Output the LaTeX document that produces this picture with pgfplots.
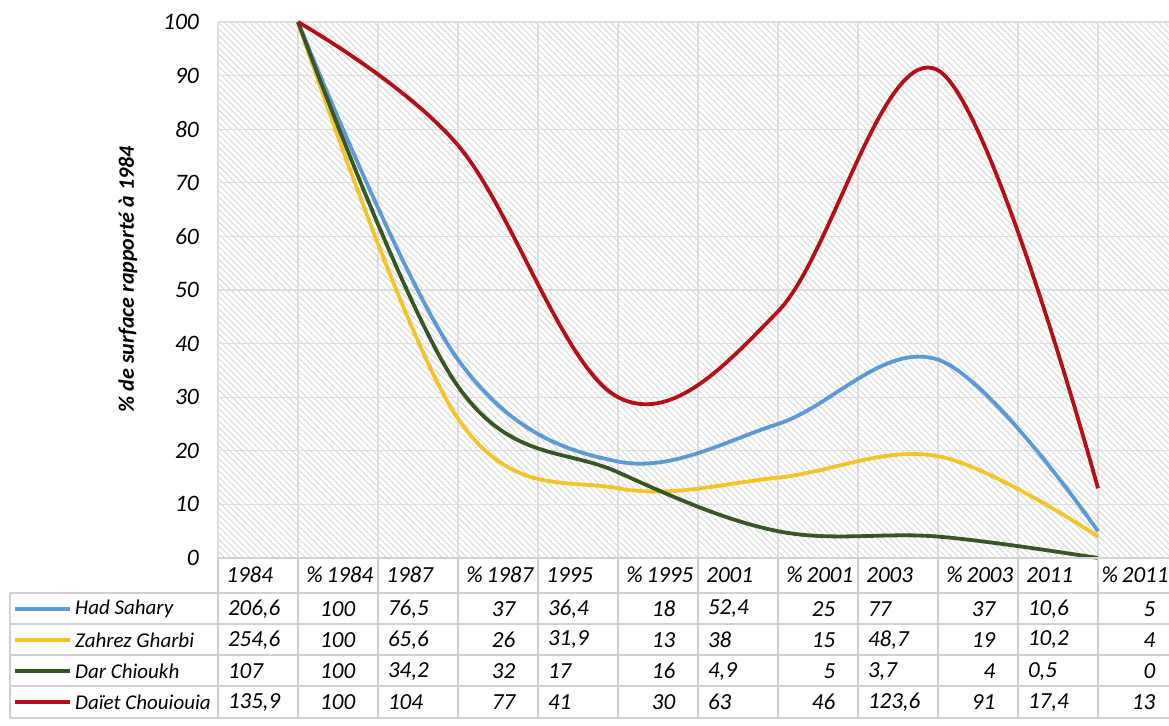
\documentclass[border=0pt]{standalone}
\usepackage{pgfplots}
\pgfplotsset{compat=1.18}
\usetikzlibrary{patterns.meta}
\usepackage{fontspec}
\setmainfont{Carlito}
\definecolor{blueS}{RGB}{91,155,213}
\definecolor{yellowS}{RGB}{245,196,40}
\definecolor{greenS}{RGB}{55,86,35}
\definecolor{redS}{RGB}{180,15,25}
\newcommand\tabrow[4]{%
  \draw[#2, line width=2pt] (-2.54,#1) -- (-1.85,#1);
  \node[anchor=west, inner sep=0pt, font=\itshape\fontsize{10.5}{12}\selectfont] at (-1.79,#1) {#3};
  \foreach \v [count=\i from 0] in {#4} {%
    \ifodd\i\relax
      \node[anchor=east, inner sep=0pt] at (\i+0.72,#1) {\v};
    \else
      \node[anchor=west, inner sep=0pt] at (\i+0.12,#1) {\v};
    \fi
  }%
}
\begin{document}
\begin{tikzpicture}
\useasboundingbox (0,0) rectangle (584.5pt,362.5pt);
\begin{axis}[
  at={(109pt,83.5pt)}, anchor=south west,
  width=480pt, height=268pt, scale only axis,
  xmin=0, xmax=12, ymin=0, ymax=100,
  xtick={0,...,12}, xticklabel=\empty,
  ytick={0,10,...,100},
  grid=major, major grid style={black!13, line width=0.6pt},
  axis line style={draw=none}, tick style={draw=none},
  axis background/.style={pattern={Lines[angle=-45,distance=2.2pt,line width=0.4pt]}, pattern color=black!17},
  /pgf/number format/assume math mode=true,
  yticklabel style={font=\itshape\fontsize{11.8}{13}\selectfont, xshift=-6pt},
  ylabel={\% de surface rapporté à 1984},
  ylabel style={font=\bfseries\itshape\fontsize{11}{13}\selectfont, at={(axis description cs:-0.094,0.52)}, anchor=center},
  clip=false,
]
\addplot[blueS, line width=1.9pt, smooth, tension=0.6] coordinates {(1,100) (3,37) (5,18) (7,25) (9,37) (11,5)};
\addplot[yellowS, line width=1.9pt, smooth, tension=0.6] coordinates {(1,100) (3,26) (5,13) (7,15) (9,19) (11,4)};
\addplot[greenS, line width=1.9pt, smooth, tension=0.6] coordinates {(1,100) (3,32) (5,16) (7,5) (9,4) (11,0)};
\addplot[redS, line width=1.9pt, smooth, tension=0.6] coordinates {(1,100) (3,77) (5,30) (7,46) (9,91) (11,13)};
\end{axis}
\begin{scope}[shift={(109pt,83.5pt)}, x=40pt, y=2.68pt,
  tbl/.style={black!18, line width=0.8pt},
  every node/.style={font=\itshape\fontsize{11.5}{13}\selectfont}]
  \foreach \k in {0,...,12} \draw[tbl] (\k,0) -- (\k,-29.85);
  \draw[tbl] (-2.6,-6.5) -- (-2.6,-29.85);
  \foreach \yy in {-6.5,-12.3,-18.1,-23.9,-29.85} \draw[tbl] (-2.6,\yy) -- (12,\yy);
  \draw[tbl] (0,0) -- (12,0);
  \foreach \h [count=\i from 0] in {1984,\%\,1984,1987,\%\,1987,1995,\%\,1995,2001,\%\,2001,2003,\%\,2003,2011}
    \node[anchor=west, inner sep=0pt] at (\i+0.1,-3.2) {\h};
  \node[anchor=west, inner sep=0pt] at (11.04,-3.2) {\%\,2011};
  \tabrow{-9.5}{blueS}{Had Sahary}{{206,6},100,{76,5},37,{36,4},18,{52,4},25,77,37,{10,6},5}
  \tabrow{-15.3}{yellowS}{Zahrez Gharbi}{{254,6},100,{65,6},26,{31,9},13,38,15,{48,7},19,{10,2},4}
  \tabrow{-21.1}{greenS}{Dar Chioukh}{107,100,{34,2},32,17,16,{4,9},5,{3,7},4,{0,5},0}
  \tabrow{-26.9}{redS}{Daïet Chouiouia}{{135,9},100,104,77,41,30,63,46,{123,6},91,{17,4},13}
\end{scope}
\end{tikzpicture}
\end{document}
